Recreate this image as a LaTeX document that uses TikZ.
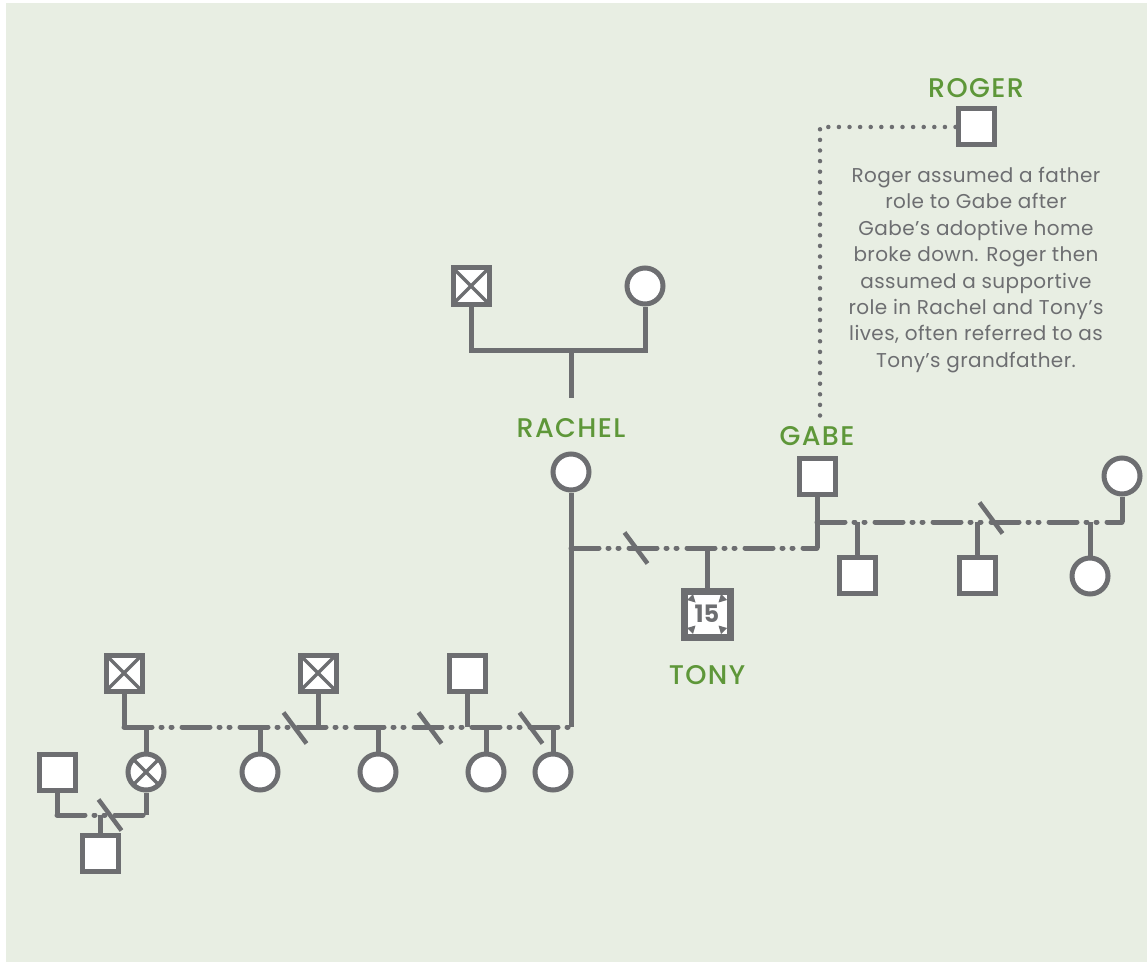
\documentclass[tikz,border=0pt]{standalone}
\usepackage{fontspec}
\setmainfont{Poppins}
\newfontfamily\labelfont{Poppins Medium}[LetterSpace=5]
\newfontfamily\notefont{Poppins}[LetterSpace=2]
\usepackage{tikz}

\definecolor{pedgray}{HTML}{6D6E71}
\definecolor{namegreen}{HTML}{5E9739}
\definecolor{paper}{HTML}{E8EEE3}

\begin{document}
\begin{tikzpicture}[x=1pt, y=-1pt,
    male/.style={rectangle, draw=pedgray, line width=5pt, fill=white, minimum size=36pt, inner sep=0pt},
    female/.style={circle, draw=pedgray, line width=5pt, fill=white, minimum size=36pt, inner sep=0pt},
    deceased/.style={path picture={
        \draw[pedgray, line width=3.5pt] (path picture bounding box.north west) -- (path picture bounding box.south east)
            (path picture bounding box.north east) -- (path picture bounding box.south west);}},
    tonybox/.style={rectangle, draw=pedgray, line width=7pt, fill=white, minimum size=46pt, inner sep=0pt,
        text=pedgray, font=\bfseries\fontsize{24}{24}\selectfont,
        path picture={
        \foreach \c/\sx/\sy in {north west/1/-1, north east/-1/-1, south west/1/1, south east/-1/1}
            \fill[pedgray] ([shift={(\sx*3pt,\sy*9pt)}]path picture bounding box.\c)
                -- ([shift={(\sx*9pt,\sy*3pt)}]path picture bounding box.\c)
                -- ([shift={(\sx*11.5pt,\sy*11.5pt)}]path picture bounding box.\c) -- cycle;}},
    pname/.style={text=namegreen, font=\labelfont\fontsize{27}{27}\selectfont, inner sep=0pt},
    note/.style={text=pedgray, font=\notefont\fontsize{20}{26.4}\selectfont, align=center, inner sep=0pt},
    tie/.style={draw=pedgray, line width=5pt},
    union/.style={tie, line cap=round, dash pattern=on 28pt off 9pt on 1pt off 9pt on 1pt off 10pt},
    split/.style={draw=pedgray, line width=4.5pt},
    helper/.style={draw=pedgray, line width=4.5pt, line cap=round, dash pattern=on 0pt off 10.6pt}]

    % Background
    \useasboundingbox (0,0) rectangle (1147,965);
    \fill[white] (0,0) rectangle (1147,965);
    \fill[paper] (6,3) rectangle (1147,962);

    % Rachel's parents
    \node[male, deceased] (gpa) at (471,286) {};
    \node[female] (gma) at (645,286) {};
    \coordinate (gpmid) at (571,350);
    \coordinate (gpstem) at (571,398);
    \draw[tie] (gpa.south) |- (gpmid) -| (gma.south);
    \draw[tie] (gpmid) -- (gpstem);

    % Rachel
    \node[pname] (rachelname) at (571,428) {RACHEL};
    \node[female] (rachel) at (571,472) {};
    \coordinate (rachelknee) at (571,548);
    \coordinate (rachelfoot) at (571,727);
    \draw[tie] (rachel.south) -- (rachelfoot);

    % Gabe and Tony
    \node[pname] (gabename) at (817,436) {GABE};
    \node[male] (gabe) at (817,476) {};
    \coordinate (gabeknee) at (817,522);
    \coordinate (gabefoot) at (817,548);
    \draw[tie] (gabe.south) -- (gabefoot);
    \draw[union] (rachelknee) -- (gabefoot);
    \coordinate (cut1) at (636,548);
    \draw[split] (cut1) ++(-11.5,-15.5) -- ++(23,31);

    \node[tonybox] (tony) at (707,614) {15};
    \node[pname] (tonyname) at (707,675) {TONY};
    \draw[tie] (tony.north) -- (tony.north |- rachelknee);

    % Gabe's other partner and children
    \node[female] (gabewife) at (1122,476) {};
    \coordinate (gabewifefoot) at (1122,522);
    \draw[tie] (gabewife.south) -- (gabewifefoot);
    \draw[union] (gabeknee) -- (gabewifefoot);
    \coordinate (cut2) at (991,518);
    \draw[split] (cut2) ++(-11.5,-15.5) -- ++(23,31);

    \node[male] (gkid1) at (857,575) {};
    \node[male] (gkid2) at (977,575) {};
    \node[female] (gkid3) at (1090,576) {};
    \draw[tie] (gkid1.north) -- (gkid1.north |- gabeknee);
    \draw[tie] (gkid2.north) -- (gkid2.north |- gabeknee);
    \draw[tie] (gkid3.north) -- (gkid3.north |- gabeknee);

    % Roger
    \node[pname] (rogername) at (976,88) {ROGER};
    \node[male] (roger) at (976,127) {};
    \coordinate (rogerend) at (820,418);
    \draw[helper] (roger.west) -| (rogerend);
    \node[note] (rogernote) at (976,270) {Roger assumed a father\\role to Gabe after\\Gabe’s adoptive home\\broke down. Roger then\\assumed a supportive\\role in Rachel and Tony’s\\lives, often referred to as\\Tony’s grandfather.};

    % Rachel's earlier relationships
    \node[male, deceased] (ex1) at (124,673) {};
    \node[male, deceased] (ex2) at (318,673) {};
    \node[male] (ex3) at (467,673) {};
    \coordinate (exline) at (124,727);
    \draw[tie] (ex1.south) -- (exline);
    \draw[union] (exline) -- (rachelfoot);
    \draw[tie] (ex2.south) -- (ex2.south |- rachelfoot);
    \draw[tie] (ex3.south) -- (ex3.south |- rachelfoot);
    \coordinate (cut3) at (295,728);
    \coordinate (cut4) at (430,728);
    \coordinate (cut5) at (531,728);
    \draw[split] (cut3) ++(-11.5,-15.5) -- ++(23,31);
    \draw[split] (cut4) ++(-11.5,-15.5) -- ++(23,31);
    \draw[split] (cut5) ++(-11.5,-15.5) -- ++(23,31);

    \node[female, deceased] (rkid1) at (146,772) {};
    \node[female] (rkid2) at (260,772) {};
    \node[female] (rkid3) at (378,772) {};
    \node[female] (rkid4) at (486,772) {};
    \node[female] (rkid5) at (553,772) {};
    \foreach \k in {rkid1, rkid2, rkid3, rkid4, rkid5}
        \draw[tie] (\k.north) -- (\k.north |- rachelfoot);

    % Bottom left family
    \node[male] (rkid1man) at (57,772) {};
    \coordinate (blleft) at (57,815);
    \coordinate (blright) at (146,815);
    \draw[tie] (rkid1man.south) -- (blleft);
    \draw[tie] (rkid1.south) -- (blright);
    \draw[union] (blleft) -- (blright);
    \coordinate (cut6) at (110,815);
    \draw[split] (cut6) ++(-11.5,-15.5) -- ++(23,31);
    \node[male] (grandkid) at (100,853) {};
    \draw[tie] (grandkid.north) -- (grandkid.north |- blleft);
\end{tikzpicture}
\end{document}
